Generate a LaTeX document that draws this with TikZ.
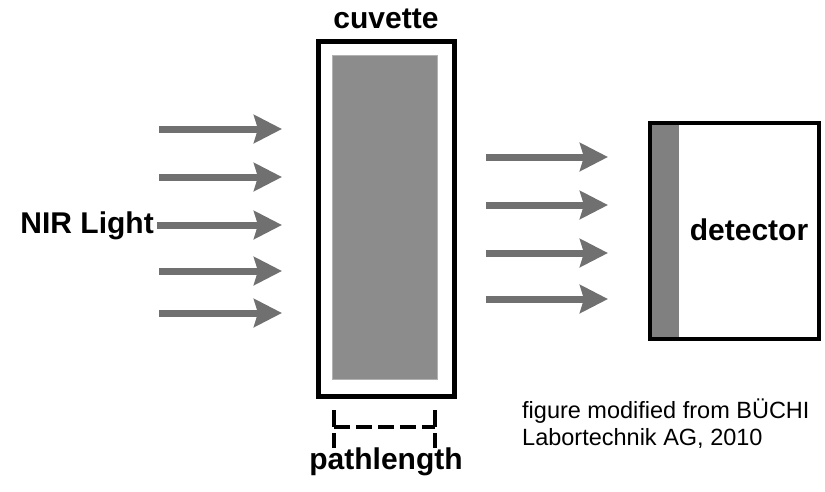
\documentclass[tikz,border=0pt]{standalone}
\usepackage{fontspec}
\setmainfont{Liberation Sans}
\usetikzlibrary{arrows.meta}
\definecolor{arrowgray}{HTML}{707070}
\definecolor{cellgray}{HTML}{8C8C8C}
\definecolor{stripgray}{HTML}{808080}
\tikzset{
  lightarrow/.style={draw=arrowgray, line width=7pt, -{Stealth[length=28pt,width=28pt,inset=4pt]}, arrowgray},
  biglabel/.style={font=\fontsize{30}{33}\selectfont\bfseries, inner sep=0pt},
  credit/.style={font=\fontsize{23.5}{27}\selectfont, inner sep=0pt, align=left, anchor=north west},
  brk/.style={line width=4pt, draw=black}
}
\begin{document}
\begin{tikzpicture}[x=1pt,y=-1pt]
\useasboundingbox (0,0) rectangle (825,491);
% cuvette
\draw[line width=5pt] (318,41) rectangle (454,396);
\node[draw=gray!60, line width=0.6pt, fill=cellgray, inner sep=0pt, minimum width=105pt, minimum height=324pt, anchor=north west] (cell) at (332,55) {};
\node[biglabel] (cuv) at (386,19) {cuvette};
% detector
\draw[line width=4pt, fill=white] (650,123) rectangle (819,339);
\fill[stripgray] (652,125) rectangle (679,337);
\draw[line width=4pt] (650,123) rectangle (819,339);
\node[biglabel] (det) at (749,230) {detector};
% NIR light
\node[biglabel, anchor=east] (nir) at (154,226) {NIR Light};
% incoming arrows
\foreach \y/\n in {129/a1,177/a2,271/a4,313/a5}{
  \coordinate (\n s) at (159,\y);
  \coordinate (\n e) at (282,\y);
  \draw[lightarrow] (\n s) -- (\n e);
}
\coordinate (a3e) at (282,225);
\draw[lightarrow] (nir.east |- a3e) ++(3,0) coordinate (a3s) -- (a3e);
% outgoing arrows
\foreach \y/\n in {157/b1,205/b2,253/b3,299/b4}{
  \coordinate (\n s) at (486,\y);
  \coordinate (\n e) at (608,\y);
  \draw[lightarrow] (\n s) -- (\n e);
}
% pathlength bracket
\coordinate (pl1) at (334,410);
\coordinate (pl2) at (334,427);
\coordinate (pl3) at (334,433);
\coordinate (pl4) at (334,448);
\coordinate (pr1) at (435,410);
\coordinate (pr2) at (435,427);
\coordinate (pr3) at (435,433);
\coordinate (pr4) at (435,448);
\draw[brk] (pl1) -- (pl2) (pl3) -- (pl4) (pr1) -- (pr2) (pr3) -- (pr4);
\draw[brk, dash pattern=on 16pt off 6pt] (pl2) -- (pr2);
\node[biglabel] (pl) at (386,462) {pathlength};
% credit
\node[credit] (cr) at (522,399) {figure modified from BÜCHI\\Labortechnik AG, 2010};
\end{tikzpicture}
\end{document}
